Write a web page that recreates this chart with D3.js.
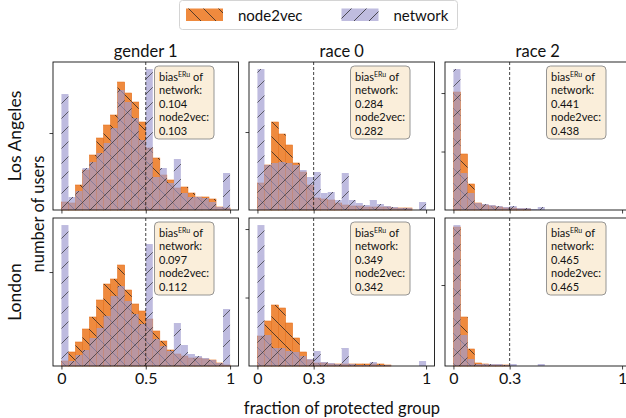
<html>
<head>
<script src="https://d3js.org/d3.v7.min.js"></script>
<style>
  body { margin: 0; background: white; }
  text { font-family: Lato, sans-serif; fill: #111; }
</style>
</head>
<body>
<svg width="626" height="418"></svg>
<script>
// histograms: 24 equal bins on [0, 1], counts
var binCount = 24;
var cities = ['Los Angeles', 'London'];
var groups = ['gender 1', 'race 0', 'race 2'];
var thresholds = [0.5, 1 / 3, 1 / 3];
var thresholdLabels = ['0.5', '0.3', '0.3'];

var networkLaGender1 = [116, 13, 19, 42, 48, 57, 67, 82, 120, 108, 92, 70, 141, 33, 42, 27, 51, 17, 13, 13, 12, 8, 3, 37];
var node2vecLaGender1 = [8, 7, 25, 40, 55, 72, 85, 95, 128, 117, 108, 88, 62, 52, 35, 30, 22, 23, 17, 13, 13, 11, 3, 2];
var networkLaRace0 = [141, 45, 47, 48, 47, 45, 40, 33, 38, 17, 18, 10, 37, 10, 7, 5, 10, 6, 4, 3, 2, 2, 0, 8];
var node2vecLaRace0 = [27, 45, 88, 76, 65, 47, 38, 25, 12, 11, 10, 7, 5, 4, 4, 3, 3, 3, 3, 2, 2, 2, 0, 0];
var networkLaRace2 = [141, 37, 17, 7, 6, 5, 4, 3, 4, 2, 2, 1, 3, 0, 0, 0, 0, 0, 0, 0, 0, 0, 0, 0];
var node2vecLaRace2 = [118, 56, 26, 7, 5, 4, 3, 2, 2, 1, 1, 0, 0, 0, 0, 0, 0, 0, 0, 0, 0, 0, 0, 0];

var networkLondonGender1 = [141, 5, 11, 16, 28, 38, 50, 70, 80, 65, 52, 42, 122, 27, 20, 15, 43, 21, 12, 10, 8, 6, 3, 57];
var node2vecLondonGender1 = [5, 14, 24, 37, 49, 66, 82, 87, 101, 76, 62, 55, 47, 35, 25, 16, 12, 10, 8, 8, 7, 6, 3, 1];
var networkLondonRace0 = [141, 31, 18, 18, 15, 14, 10, 7, 15, 4, 3, 2, 18, 2, 1, 1, 4, 1, 1, 0, 0, 0, 0, 5];
var node2vecLondonRace0 = [30, 45, 61, 58, 43, 28, 14, 6, 3, 3, 2, 2, 2, 2, 2, 2, 2, 2, 1, 0, 0, 0, 0, 0];
var networkLondonRace2 = [141, 31, 7, 2, 2, 2, 2, 1, 2, 0, 0, 0, 2, 0, 0, 0, 0, 0, 0, 0, 0, 0, 0, 0];
var node2vecLondonRace2 = [139, 49, 17, 3, 2, 1, 1, 1, 0, 0, 0, 0, 0, 0, 0, 0, 0, 0, 0, 0, 0, 0, 0, 0];

// y tick positions (no labels shown), per panel
var yTicksLa = [[77], [78], [58.5, 117]];
var yTicksLondon = [[94], [68.5, 137], [81]];

var biasNetwork = [['0.104', '0.284', '0.441'], ['0.097', '0.349', '0.465']];
var biasNode2vec = [['0.103', '0.282', '0.438'], ['0.112', '0.342', '0.465']];

var seriesNames = ['node2vec', 'network'];
var colors = ['#ef8a3e', '#a09cd0'];
var netOpacity = 0.68;

var networkData = [[networkLaGender1, networkLaRace0, networkLaRace2],
                   [networkLondonGender1, networkLondonRace0, networkLondonRace2]];
var node2vecData = [[node2vecLaGender1, node2vecLaRace0, node2vecLaRace2],
                    [node2vecLondonGender1, node2vecLondonRace0, node2vecLondonRace2]];
var yTicks = [yTicksLa, yTicksLondon];

var colLeft = [53, 249, 445];
var rowTop = [62, 218];
var panelW = 185.5;
var panelH = 148;

var svg = d3.select('svg');
var defs = svg.append('defs');

// hatch patterns
function hatch(id, back) {
  var s = 15;
  var p = defs.append('pattern')
    .attr('id', id)
    .attr('patternUnits', 'userSpaceOnUse')
    .attr('width', s)
    .attr('height', s);
  var d = back
    ? 'M0,0 L' + s + ',' + s + ' M-3,' + (s - 3) + ' L3,' + (s + 3) + ' M' + (s - 3) + ',-3 L' + (s + 3) + ',3'
    : 'M0,' + s + ' L' + s + ',0 M-3,3 L3,-3 M' + (s - 3) + ',' + (s + 3) + ' L' + (s + 3) + ',' + (s - 3);
  p.append('path').attr('d', d).style('stroke', '#222').style('stroke-width', 0.75).style('fill', 'none');
}
hatch('hatchBack', true);
hatch('hatchFwd', false);

var bins = d3.range(binCount).map(function (i) { return [i / binCount, (i + 1) / binCount]; });

cities.forEach(function (city, r) {
  groups.forEach(function (group, c) {
    var left = colLeft[c], top = rowTop[r];
    var x = d3.scaleLinear().domain([-0.05, 1.05]).range([left, left + panelW]);
    var net = networkData[r][c], n2v = node2vecData[r][c];
    var yMax = d3.max(net.concat(n2v)) * 1.05;
    var y = d3.scaleLinear().domain([0, yMax]).range([top + panelH, top]);
    var g = svg.append('g');

    // node2vec bars
    var n2vBars = bins.map(function (b, i) { return [b[0], b[1], n2v[i]]; }).filter(function (d) { return d[2] > 0; });
    g.selectAll('rect.n2v').data(n2vBars).enter().append('rect')
      .attr('x', function (d) { return x(d[0]); })
      .attr('width', function (d) { return x(d[1]) - x(d[0]); })
      .attr('y', function (d) { return y(d[2]); })
      .attr('height', function (d) { return y(0) - y(d[2]); })
      .style('fill', colors[0])
      .style('stroke', '#e4701c')
      .style('stroke-width', 0.6);
    g.selectAll('rect.n2vh').data(n2vBars).enter().append('rect')
      .attr('x', function (d) { return x(d[0]); })
      .attr('width', function (d) { return x(d[1]) - x(d[0]); })
      .attr('y', function (d) { return y(d[2]); })
      .attr('height', function (d) { return y(0) - y(d[2]); })
      .style('fill', 'url(#hatchBack)');

    // network bars on top, semi transparent
    var netBars = bins.map(function (b, i) { return [b[0], b[1], net[i]]; }).filter(function (d) { return d[2] > 0; });
    var ng = g.append('g').style('opacity', netOpacity);
    ng.selectAll('rect').data(netBars).enter().append('rect')
      .attr('x', function (d) { return x(d[0]); })
      .attr('width', function (d) { return x(d[1]) - x(d[0]); })
      .attr('y', function (d) { return y(d[2]); })
      .attr('height', function (d) { return y(0) - y(d[2]); })
      .style('fill', colors[1]);
    g.selectAll('rect.neth').data(netBars).enter().append('rect')
      .attr('x', function (d) { return x(d[0]); })
      .attr('width', function (d) { return x(d[1]) - x(d[0]); })
      .attr('y', function (d) { return y(d[2]); })
      .attr('height', function (d) { return y(0) - y(d[2]); })
      .style('fill', 'url(#hatchFwd)')
      .style('opacity', 0.85);

    // threshold line
    g.append('line')
      .attr('x1', x(thresholds[c])).attr('x2', x(thresholds[c]))
      .attr('y1', top).attr('y2', top + panelH)
      .style('stroke', '#111').style('stroke-width', 0.8).style('stroke-dasharray', '3,2');

    // axes
    g.append('g')
      .attr('transform', 'translate(0,' + (top + panelH) + ')')
      .call(d3.axisBottom(x).tickValues([0, thresholds[c], 1]).tickSize(3.5)
        .tickFormat(r == 1 ? function (d, i) { return ['0', thresholdLabels[c], '1'][i]; } : ''))
      .call(function (a) {
        a.select('.domain').remove();
        a.selectAll('line').style('stroke', '#111').style('stroke-width', 0.8);
        a.selectAll('text').style('font-size', '16px').style('font-family', 'Lato').attr('dy', '0.9em').attr('y', 3.5);
      });
    g.append('g')
      .attr('transform', 'translate(' + left + ',0)')
      .call(d3.axisLeft(y).tickValues(yTicks[r][c]).tickSize(3.5).tickFormat(''))
      .call(function (a) {
        a.select('.domain').remove();
        a.selectAll('line').style('stroke', '#111').style('stroke-width', 0.8);
      });

    // frame
    g.append('rect')
      .attr('x', left).attr('y', top).attr('width', panelW).attr('height', panelH)
      .style('fill', 'none').style('stroke', '#111').style('stroke-width', 0.9);

    // bias box
    var bx = left + 101.5, by = top + 4;
    g.append('rect')
      .attr('x', bx).attr('y', by).attr('width', 59.5).attr('height', 73)
      .attr('rx', 4)
      .style('fill', '#faeeda').style('stroke', '#8a8a8a').style('stroke-width', 0.9);
    var lines = [null, 'network:', biasNetwork[r][c], 'node2vec:', biasNode2vec[r][c]];
    lines.forEach(function (t, i) {
      var tx = g.append('text')
        .attr('x', bx + 4.5)
        .attr('y', by + 15 + i * 13.4)
        .style('font-size', '11px');
      if (t === null) {
        tx.append('tspan').text('bias');
        tx.append('tspan').attr('dy', -4).style('font-size', '7px').text('ERu');
        tx.append('tspan').attr('dy', 4).text(' of');
      } else {
        tx.text(t);
      }
    });

    // column titles
    if (r == 0) {
      svg.append('text')
        .attr('x', left + panelW / 2).attr('y', top - 5)
        .attr('text-anchor', 'middle')
        .style('font-size', '16.5px')
        .text(group);
    }
  });

  svg.append('text')
    .attr('transform', 'translate(21,' + (rowTop[r] + panelH / 2) + ')rotate(-90)')
    .attr('text-anchor', 'middle')
    .style('font-size', '17.5px')
    .text(city);
});

// axis titles
svg.append('text')
  .attr('transform', 'translate(44,214)rotate(-90)')
  .attr('text-anchor', 'middle')
  .style('font-size', '16.5px')
  .text('number of users');
svg.append('text')
  .attr('x', 342).attr('y', 414)
  .attr('text-anchor', 'middle')
  .style('font-size', '16.5px')
  .text('fraction of protected group');

// legend
var lg = svg.append('g');
lg.append('rect')
  .attr('x', 179.5).attr('y', 0.5).attr('width', 278).attr('height', 29).attr('rx', 3)
  .style('fill', 'white').style('stroke', '#d4d4d4').style('stroke-width', 1);
var legendX = [186, 341.5];
seriesNames.forEach(function (name, i) {
  lg.append('rect').attr('x', legendX[i]).attr('y', 8.5).attr('width', 37).attr('height', 12.5)
    .style('fill', colors[i]).style('opacity', i == 1 ? netOpacity : 1);
  lg.append('rect').attr('x', legendX[i]).attr('y', 8.5).attr('width', 37).attr('height', 12.5)
    .style('fill', i == 0 ? 'url(#hatchBack)' : 'url(#hatchFwd)');
  lg.append('text').attr('x', legendX[i] + 52).attr('y', 20.5)
    .style('font-size', '15px')
    .text(name);
});
</script>
</body>
</html>
